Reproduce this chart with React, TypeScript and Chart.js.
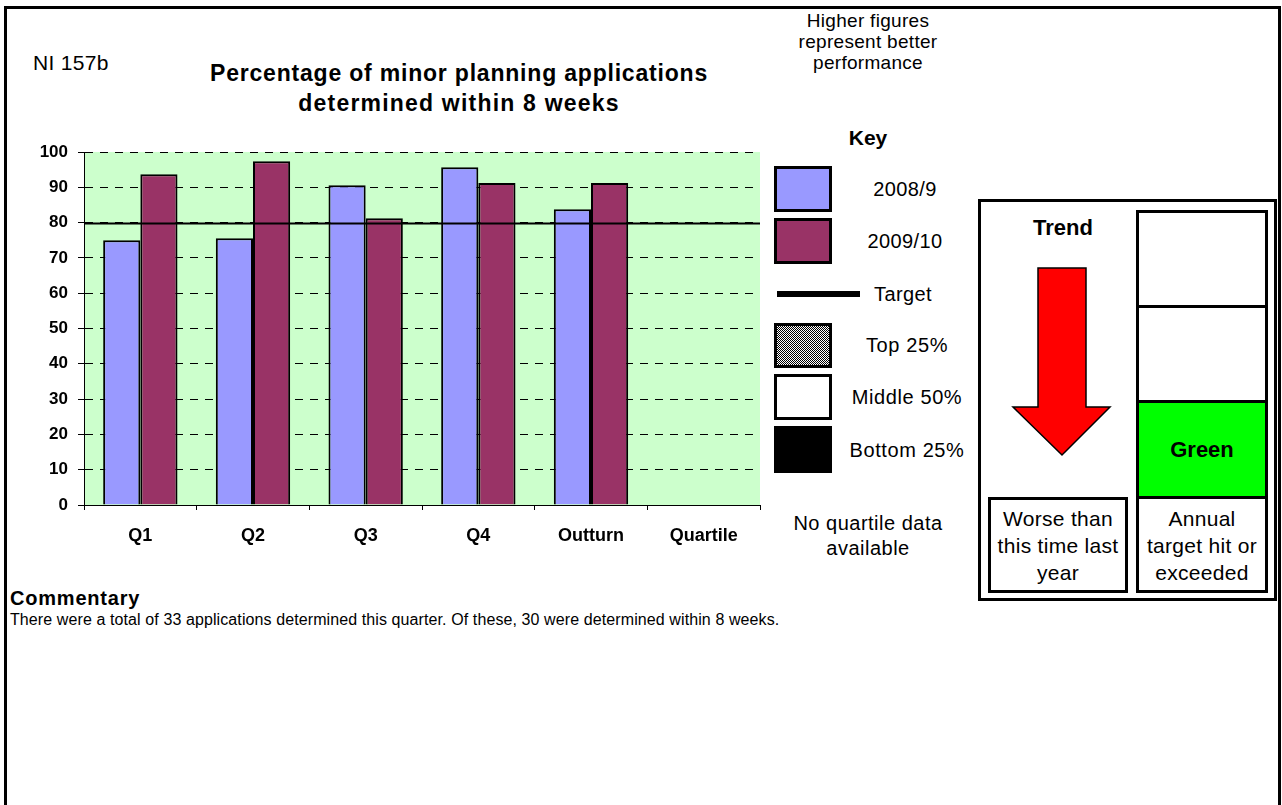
import React, { useEffect, useRef } from "react";
import { Chart, registerables } from "chart.js";

Chart.register(...registerables);

const categories = ["Q1", "Q2", "Q3", "Q4", "Outturn", "Quartile"];
const seriesNames = ["2008/9", "2009/10"];
const values2008 = [75.0, 75.6, 90.6, 95.7, 83.8, null];
const values2009 = [93.7, 97.4, 81.2, 91.2, 91.2, null];
const targetValue = 80;
const yMin = 0;
const yMax = 100;
const yStep = 10;

const colors = {
  s2008: "#9999FF",
  s2009: "#993366",
  plot: "#CCFFCC",
};

const FONT = "Arial, 'Liberation Sans', Helvetica, sans-serif";

const plotPlugin = {
  id: "plotPlugin",
  beforeDraw(chart: any) {
    const { ctx, chartArea } = chart;
    if (!chartArea) return;
    ctx.save();
    ctx.fillStyle = colors.plot;
    ctx.fillRect(chartArea.left, chartArea.top, chartArea.right - chartArea.left, chartArea.bottom - chartArea.top);
    ctx.restore();
  },
  afterDatasetsDraw(chart: any) {
    const { ctx, chartArea, scales } = chart;
    const y = Math.round(scales.y.getPixelForValue(targetValue)) + 0.5;
    ctx.save();
    ctx.strokeStyle = "#000";
    ctx.lineWidth = 2;
    ctx.beginPath();
    ctx.moveTo(chartArea.left, y);
    ctx.lineTo(chartArea.right, y);
    ctx.stroke();
    ctx.restore();
  },
};

function T(props: { x: number; y: number; size: number; bold?: boolean; ls?: number; align?: string; children: any }) {
  const { x, y, size, bold, ls, align, children } = props;
  const tx = align === "left" ? "0" : "-50%";
  return (
    <div
      style={{
        position: "absolute",
        left: x,
        top: y,
        transform: `translate(${tx}, -50%)`,
        whiteSpace: "nowrap",
        fontSize: size,
        fontWeight: bold ? "bold" : "normal",
        letterSpacing: ls ?? 0,
        lineHeight: 1,
        color: "#000",
      }}
    >
      {children}
    </div>
  );
}

function Box(props: { x: number; y: number; w: number; h: number; bg?: string; bw?: number }) {
  const { x, y, w, h, bg, bw } = props;
  return (
    <div
      style={{
        position: "absolute",
        left: x,
        top: y,
        width: w,
        height: h,
        boxSizing: "border-box",
        border: `${bw ?? 3}px solid #000`,
        background: bg ?? "#fff",
      }}
    />
  );
}

export default function App() {
  const ref = useRef<HTMLCanvasElement | null>(null);

  useEffect(() => {
    if (!ref.current) return;
    const chart = new Chart(ref.current, {
      type: "bar",
      data: {
        labels: categories,
        datasets: [
          {
            label: seriesNames[0],
            data: values2008 as any,
            backgroundColor: colors.s2008,
            borderColor: "#000",
            borderWidth: 2,
            categoryPercentage: 0.66,
            barPercentage: 1,
          },
          {
            label: seriesNames[1],
            data: values2009 as any,
            backgroundColor: colors.s2009,
            borderColor: "#000",
            borderWidth: 2,
            categoryPercentage: 0.66,
            barPercentage: 1,
          },
        ],
      },
      options: {
        responsive: false,
        animation: false,
        layout: { padding: { top: 22, right: 6, bottom: 0, left: 0 } },
        plugins: {
          legend: { display: false },
          title: { display: false },
          tooltip: { enabled: false },
        },
        scales: {
          x: {
            grid: {
              display: true,
              drawOnChartArea: false,
              drawTicks: true,
              tickLength: 5,
              color: "#000",
              offset: true,
            },
            border: { display: true, color: "#000", width: 1 },
            ticks: {
              color: "#000",
              font: { family: FONT, size: 18, weight: "bold" },
              padding: 15,
              maxRotation: 0,
            },
            afterFit(scale: any) {
              scale.height = 50;
            },
          },
          y: {
            min: yMin,
            max: yMax,
            grid: {
              color: "#000",
              lineWidth: 1,
              drawTicks: true,
              tickLength: 6,
              tickColor: "#000",
            },
            border: { display: true, color: "#000", width: 1, dash: [8, 7] },
            ticks: {
              stepSize: yStep,
              color: "#000",
              font: { family: FONT, size: 17, weight: "bold" },
              padding: 10,
            },
            afterFit(scale: any) {
              scale.width = 70;
            },
          },
        },
      },
      plugins: [plotPlugin],
    });
    return () => chart.destroy();
  }, []);

  return (
    <div
      style={{
        position: "absolute",
        left: 0,
        top: 0,
        width: 1282,
        height: 805,
        overflow: "hidden",
        background: "#fff",
        fontFamily: FONT,
      }}
    >
      {/* page frame */}
      <div
        style={{
          position: "absolute",
          left: 4,
          top: 6,
          width: 1277,
          height: 900,
          boxSizing: "border-box",
          border: "3px solid #000",
        }}
      />

      <T x={33} y={62} size={21} ls={0.3} align="left">NI 157b</T>
      <T x={459} y={73} size={23} bold ls={0.8}>Percentage of minor planning applications</T>
      <T x={459} y={103} size={23} bold ls={1.2}>determined within 8 weeks</T>

      <T x={868} y={20} size={19} ls={0.3}>Higher figures</T>
      <T x={868} y={41} size={19} ls={0.3}>represent better</T>
      <T x={868} y={62} size={19} ls={0.3}>performance</T>
      <T x={868} y={137} size={21} bold>Key</T>

      <canvas
        ref={ref}
        width={752}
        height={425}
        style={{ position: "absolute", left: 14, top: 130, width: 752, height: 425 }}
      />

      {/* key */}
      <Box x={774} y={166} w={58} h={46} bg={colors.s2008} />
      <T x={905} y={189} size={20} ls={0.4}>2008/9</T>
      <Box x={774} y={218} w={58} h={46} bg={colors.s2009} />
      <T x={905} y={241} size={20} ls={0.4}>2009/10</T>
      <div style={{ position: "absolute", left: 777, top: 291, width: 83, height: 6, background: "#000" }} />
      <T x={903} y={294} size={20} ls={0.4}>Target</T>
      <Box
        x={774}
        y={323}
        w={58}
        h={45}
        bg="repeating-conic-gradient(#000 0% 25%, #fff 0% 50%) 0 0 / 2px 2px"
      />
      <T x={907} y={345} size={20} ls={0.6}>Top 25%</T>
      <Box x={774} y={374} w={58} h={46} bg="#fff" />
      <T x={907} y={397} size={20} ls={0.6}>Middle 50%</T>
      <Box x={774} y={426} w={58} h={47} bg="#000" />
      <T x={907} y={450} size={20} ls={0.6}>Bottom 25%</T>

      <T x={868} y={523} size={20} ls={0.5}>No quartile data</T>
      <T x={868} y={548} size={20} ls={0.5}>available</T>

      {/* trend panel */}
      <Box x={978} y={199} w={299} h={402} bg="#fff" />
      <T x={1063} y={228} size={22} bold>Trend</T>
      <svg
        width={110}
        height={200}
        style={{ position: "absolute", left: 1008, top: 262 }}
        viewBox="1008 262 110 200"
      >
        <polygon
          points="1038,268 1086,268 1086,407 1110,407 1062,455 1013,407 1038,407"
          fill="#FF0000"
          stroke="#000"
          strokeWidth={1.5}
        />
      </svg>
      <Box x={988} y={497} w={140} h={96} bg="#fff" />
      <T x={1058} y={518} size={21} ls={0.3}>Worse than</T>
      <T x={1058} y={545} size={21} ls={0.3}>this time last</T>
      <T x={1058} y={572} size={21} ls={0.3}>year</T>

      <Box x={1136} y={210} w={132} h={383} bg="#fff" />
      <div style={{ position: "absolute", left: 1136, top: 305, width: 132, height: 3, background: "#000" }} />
      <div style={{ position: "absolute", left: 1136, top: 400, width: 132, height: 3, background: "#000" }} />
      <div style={{ position: "absolute", left: 1139, top: 403, width: 126, height: 93, background: "#00FF00" }} />
      <div style={{ position: "absolute", left: 1136, top: 496, width: 132, height: 3, background: "#000" }} />
      <T x={1202} y={450} size={22} bold>Green</T>
      <T x={1202} y={518} size={21} ls={0.3}>Annual</T>
      <T x={1202} y={545} size={21} ls={0.3}>target hit or</T>
      <T x={1202} y={572} size={21} ls={0.3}>exceeded</T>

      {/* commentary */}
      <T x={10} y={598} size={20} bold ls={0.8} align="left">Commentary</T>
      <T x={10} y={620} size={16} ls={0.1} align="left">
        There were a total of 33 applications determined this quarter. Of these, 30 were determined within 8 weeks.
      </T>
    </div>
  );
}
